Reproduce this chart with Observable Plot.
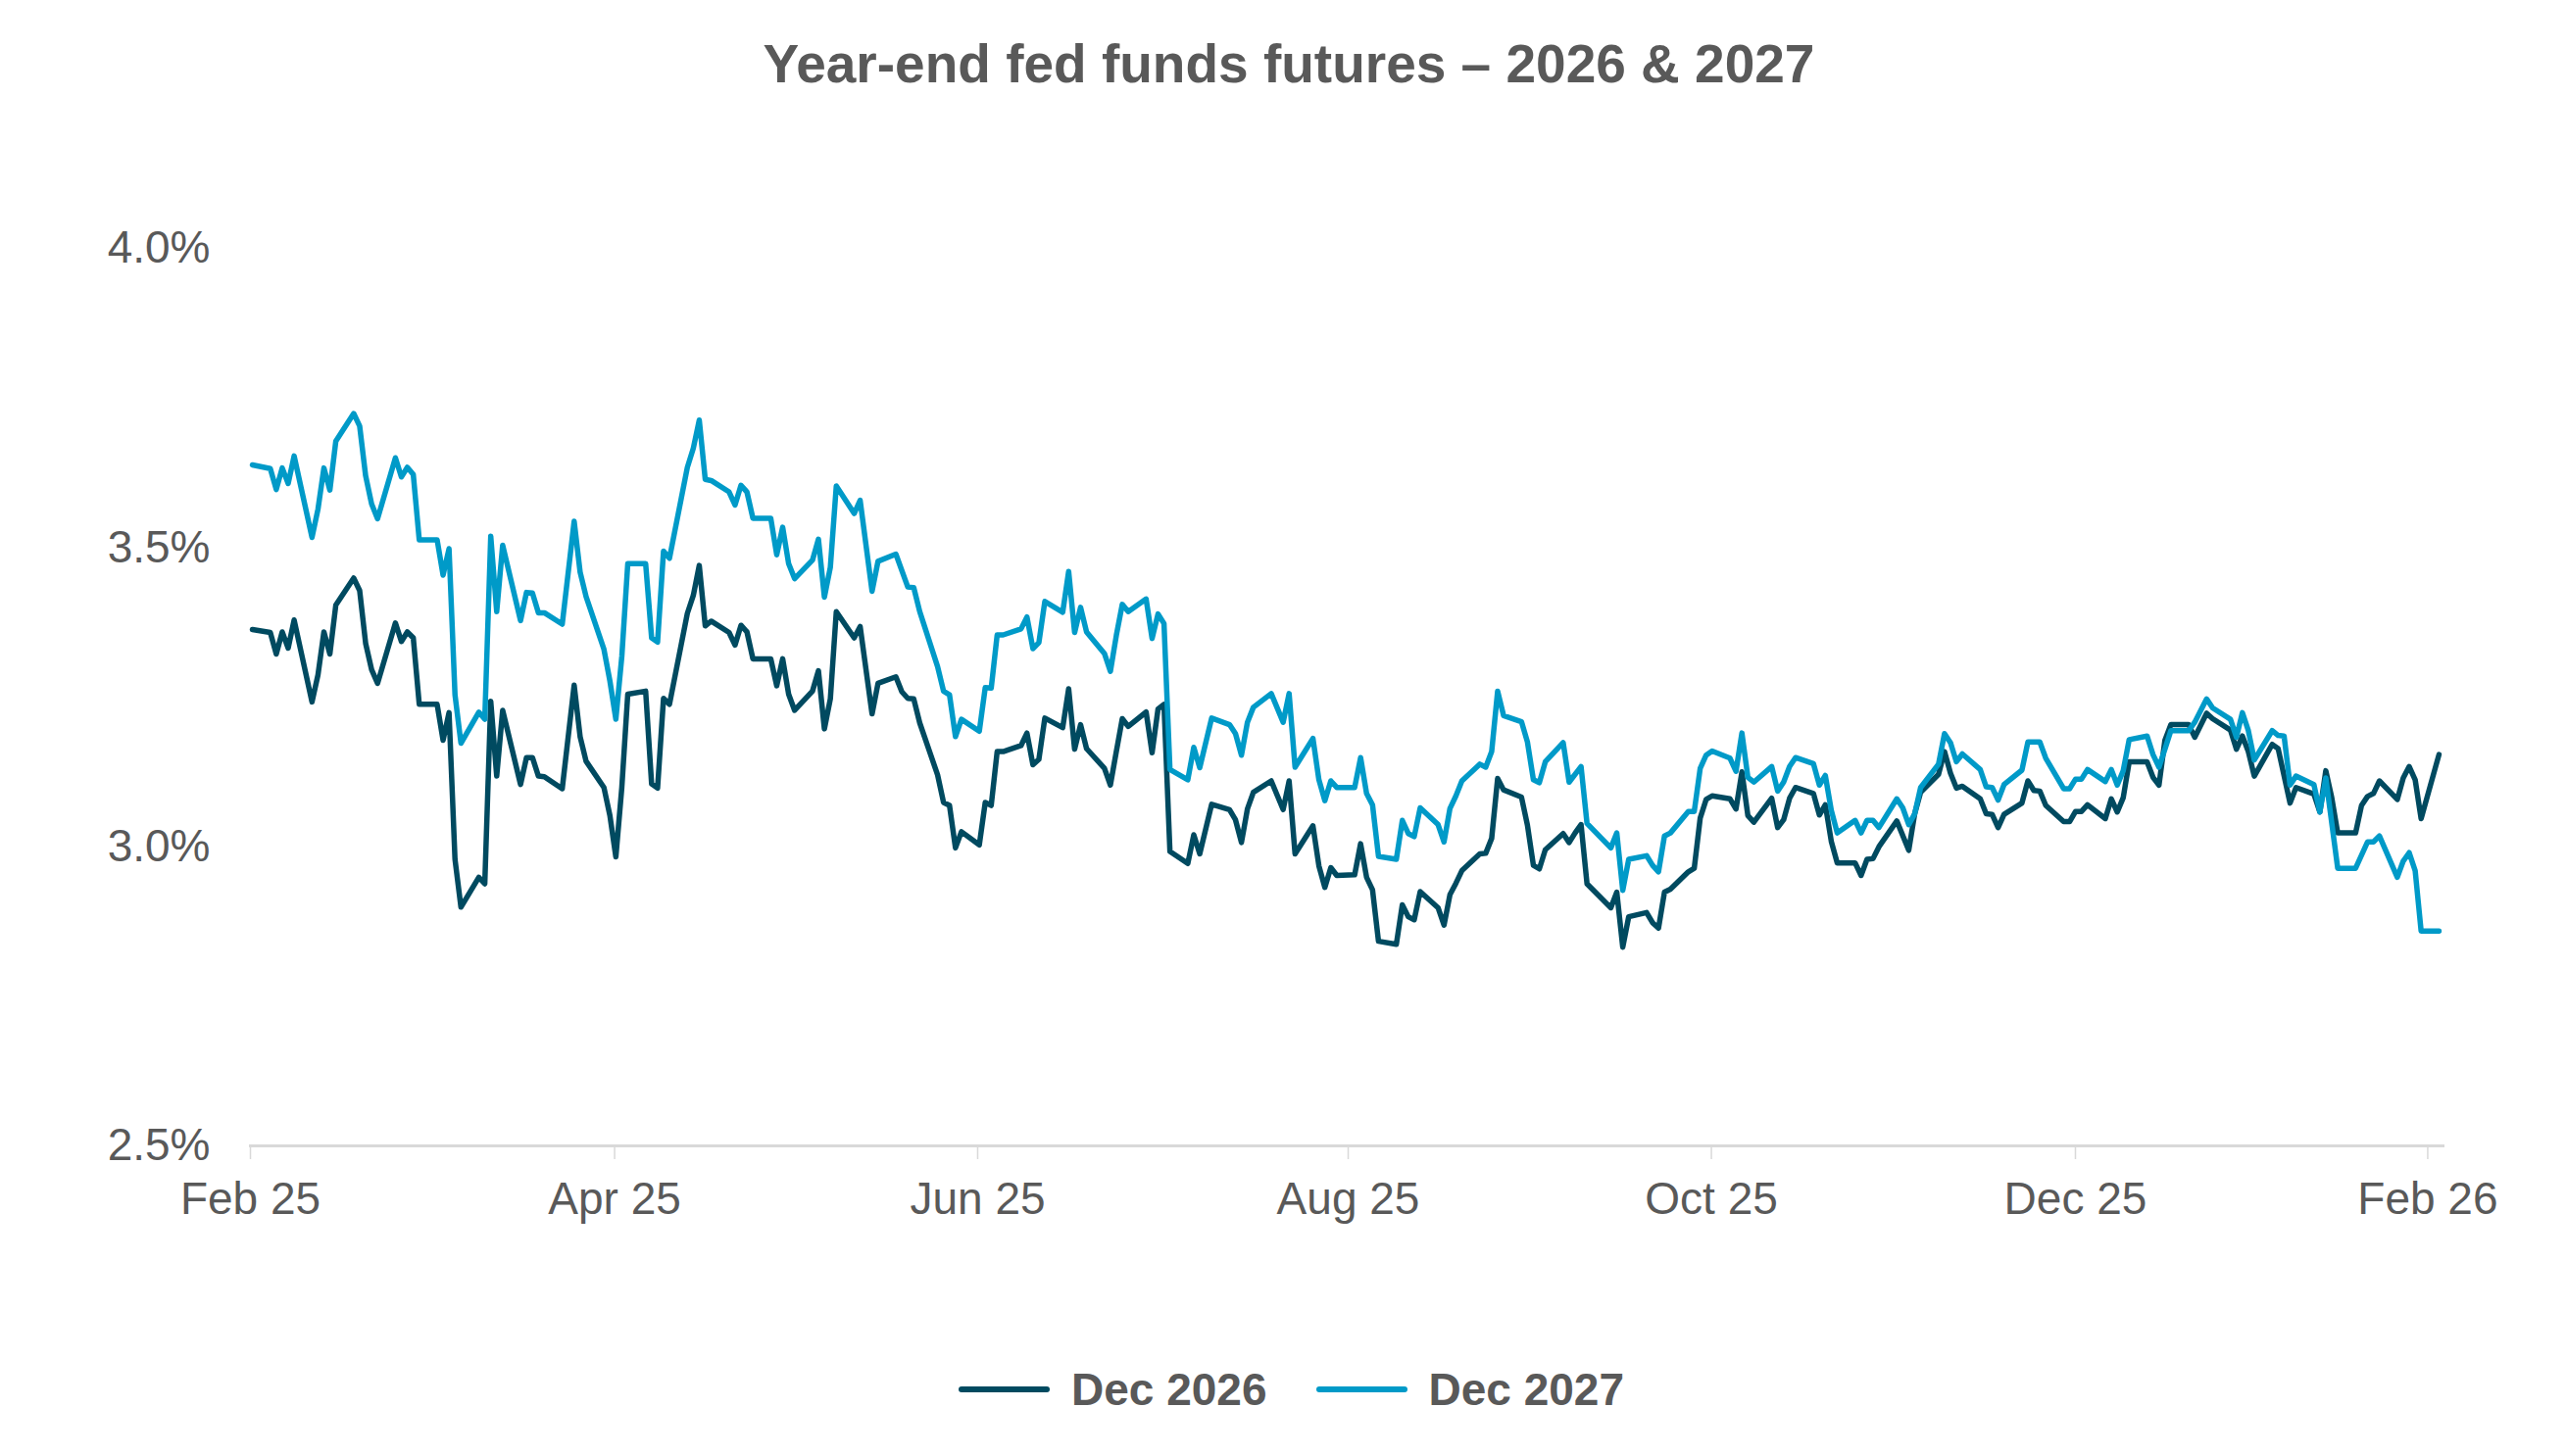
<!DOCTYPE html>
<html>
<head>
<meta charset="utf-8">
<script src="https://cdn.jsdelivr.net/npm/d3@7"></script>
<script src="https://cdn.jsdelivr.net/npm/@observablehq/plot@0.6"></script>
<style>
html, body { margin: 0; padding: 0; background: #ffffff; }
body { width: 2618px; height: 1486px; position: relative; overflow: hidden;
  font-family: "Liberation Sans", Arial, sans-serif; color: #595959; }
#title { position: absolute; left: 6px; top: 38px; width: 2618px; text-align: center;
  font-size: 55px; line-height: 55px; font-weight: bold; color: #595959; }
#chart { position: absolute; left: 0; top: 200px; }
#legend { position: absolute; left: 978px; top: 1395px; height: 46px; display: flex; align-items: center;
  font-size: 46px; line-height: 46px; font-weight: bold; color: #595959; }
#legend .item { display: flex; align-items: center; margin-right: 50px; }
#legend .sw { width: 93px; height: 6px; border-radius: 3px; margin-right: 22px; }
</style>
</head>
<body>
<div id="title">Year-end fed funds futures – 2026 &amp; 2027</div>
<div id="chart"></div>
<div id="legend"></div>
<script>
// Day offsets are days since 1 Feb 2025.
const seriesNames = ["Dec 2026", "Dec 2027"];
const seriesColors = ["#004a60", "#009ac8"];

const dec26Days = [0,3,4,5,6,7,10,11,12,13,14,17,18,19,20,21,24,25,26,27,28,31,32,33,34,35,38,39,40,41,42,45,46,47,48,49,52,54,55,56,59,60,61,62,63,66,67,68,69,70,73,74,75,76,77,80,81,82,83,84,87,88,89,90,91,94,95,96,97,98,101,102,104,105,108,109,110,111,112,115,116,117,118,119,122,123,124,125,126,129,130,131,132,133,136,137,138,139,140,143,144,145,146,147,150,151,152,153,154,157,158,159,161,164,165,166,167,168,171,173,174,175,178,179,180,181,182,185,186,187,188,189,192,193,194,195,196,199,200,201,202,203,206,207,208,209,210,213,214,215,216,217,220,221,222,223,224,228,229,230,231,234,235,236,237,238,241,242,243,244,245,248,249,250,251,252,255,256,257,258,259,262,263,264,265,266,269,270,271,272,273,276,278,279,280,283,284,285,286,287,290,291,292,293,294,297,298,299,300,301,304,305,306,307,308,311,312,313,314,315,318,319,320,321,322,325,326,328,329,332,333,334,335,336,339,340,342,343,346,347,348,349,350,353,354,355,356,357,360,361,362,363,364,367];
const dec26Values = [3.363,3.358,3.322,3.359,3.332,3.379,3.242,3.287,3.359,3.322,3.404,3.449,3.428,3.340,3.296,3.273,3.374,3.343,3.359,3.349,3.238,3.238,3.178,3.224,2.979,2.899,2.949,2.938,3.243,3.118,3.228,3.104,3.149,3.149,3.118,3.117,3.097,3.270,3.184,3.143,3.099,3.052,2.983,3.099,3.255,3.260,3.105,3.098,3.248,3.238,3.390,3.420,3.470,3.369,3.377,3.358,3.337,3.370,3.359,3.314,3.314,3.269,3.314,3.255,3.228,3.260,3.294,3.197,3.247,3.393,3.349,3.368,3.222,3.273,3.284,3.259,3.248,3.247,3.207,3.120,3.074,3.069,2.998,3.025,3.003,3.074,3.069,3.159,3.159,3.169,3.190,3.137,3.146,3.215,3.199,3.264,3.163,3.204,3.164,3.131,3.103,3.159,3.214,3.201,3.225,3.157,3.230,3.238,2.992,2.972,3.020,2.988,3.071,3.062,3.045,3.007,3.063,3.091,3.110,3.062,3.110,2.988,3.035,2.968,2.932,2.965,2.952,2.953,3.005,2.949,2.928,2.842,2.837,2.903,2.883,2.878,2.925,2.898,2.869,2.920,2.939,2.960,2.988,2.989,3.014,3.114,3.095,3.083,3.036,2.969,2.963,2.995,3.022,3.007,3.023,3.037,2.938,2.898,2.924,2.832,2.883,2.890,2.873,2.864,2.924,2.929,2.958,2.964,3.048,3.079,3.085,3.080,3.063,3.125,3.052,3.041,3.081,3.032,3.045,3.081,3.099,3.089,3.053,3.070,3.009,2.973,2.973,2.952,2.979,2.980,3.000,3.043,2.994,3.055,3.091,3.121,3.159,3.123,3.098,3.101,3.080,3.055,3.054,3.032,3.054,3.073,3.110,3.094,3.093,3.069,3.042,3.042,3.059,3.059,3.070,3.047,3.080,3.058,3.082,3.142,3.142,3.116,3.103,3.178,3.204,3.204,3.183,3.223,3.214,3.195,3.163,3.185,3.159,3.118,3.171,3.164,3.073,3.099,3.088,3.058,3.127,3.082,3.023,3.023,3.069,3.084,3.089,3.110,3.079,3.115,3.134,3.112,3.047,3.154];

const dec27Days = [0,3,4,5,6,7,10,11,12,13,14,17,18,19,20,21,24,25,26,27,28,31,32,33,34,35,38,39,40,41,42,45,46,47,48,49,52,54,55,56,59,60,61,62,63,66,67,68,69,70,73,74,75,76,77,80,81,82,83,84,87,88,89,90,91,94,95,96,97,98,101,102,104,105,108,110,111,112,115,116,117,118,119,122,123,124,125,126,129,130,131,132,133,136,137,138,139,140,143,144,145,146,147,150,151,152,153,154,157,158,159,161,164,165,166,167,168,171,173,174,175,178,179,180,181,182,185,186,187,188,189,192,193,194,195,196,199,200,201,202,203,206,207,208,209,210,213,214,215,216,217,220,221,223,224,228,229,230,231,234,235,236,237,238,241,242,243,244,245,248,249,250,251,252,255,256,257,258,259,262,263,264,265,266,269,270,271,272,273,276,277,278,279,280,283,284,285,286,287,290,291,292,293,294,297,298,300,301,304,305,306,307,308,311,312,313,314,315,318,319,320,321,322,325,326,328,329,332,333,334,335,336,339,340,341,342,343,346,347,348,350,353,355,356,357,360,361,362,363,364,367];
const dec27Values = [3.638,3.632,3.597,3.633,3.607,3.653,3.517,3.564,3.633,3.596,3.678,3.724,3.703,3.620,3.573,3.548,3.650,3.618,3.634,3.622,3.513,3.513,3.454,3.498,3.254,3.173,3.225,3.213,3.519,3.393,3.504,3.378,3.425,3.424,3.391,3.391,3.372,3.544,3.459,3.418,3.330,3.277,3.213,3.318,3.473,3.473,3.349,3.342,3.494,3.482,3.634,3.666,3.713,3.614,3.612,3.593,3.571,3.604,3.593,3.549,3.549,3.488,3.534,3.473,3.448,3.479,3.514,3.417,3.467,3.603,3.557,3.579,3.427,3.477,3.489,3.434,3.433,3.393,3.301,3.260,3.254,3.184,3.213,3.193,3.266,3.265,3.354,3.354,3.364,3.384,3.331,3.341,3.410,3.392,3.460,3.358,3.400,3.359,3.323,3.293,3.353,3.405,3.393,3.414,3.348,3.389,3.373,3.129,3.112,3.166,3.132,3.215,3.204,3.189,3.153,3.208,3.233,3.256,3.208,3.256,3.133,3.181,3.112,3.077,3.110,3.099,3.099,3.149,3.089,3.070,2.984,2.979,3.044,3.022,3.017,3.065,3.037,3.008,3.064,3.085,3.110,3.138,3.133,3.159,3.260,3.219,3.209,3.175,3.112,3.107,3.142,3.174,3.108,3.134,3.039,2.998,3.023,2.927,2.979,2.985,2.969,2.958,3.018,3.023,3.059,3.059,3.131,3.153,3.160,3.148,3.126,3.190,3.116,3.108,3.134,3.093,3.108,3.134,3.149,3.139,3.103,3.119,3.061,3.023,3.044,3.023,3.044,3.044,3.032,3.080,3.065,3.037,3.055,3.099,3.138,3.189,3.174,3.142,3.155,3.129,3.100,3.099,3.078,3.104,3.128,3.175,3.175,3.148,3.097,3.097,3.113,3.113,3.129,3.109,3.129,3.103,3.127,3.179,3.185,3.154,3.133,3.163,3.194,3.194,3.208,3.247,3.232,3.213,3.183,3.224,3.194,3.145,3.194,3.186,3.185,3.103,3.118,3.104,3.058,3.115,2.964,2.964,3.008,3.008,3.018,2.949,2.976,2.990,2.960,2.859,2.859];

// Tick positions as they sit on the reference axis, with their labels.
const xTickDates = ["2025-02-01T04:00Z","2025-04-03T07:00Z","2025-06-03T05:30Z","2025-08-04T10:00Z","2025-10-04T09:00Z","2025-12-04T11:30Z","2026-02-01T14:40Z"];
const xTickLabels = ["Feb 25","Apr 25","Jun 25","Aug 25","Oct 25","Dec 25","Feb 26"];
const yTicks = [2.5, 3.0, 3.5, 4.0];

const DAY = 864e5;
const start = Date.UTC(2025, 1, 1);
function toRows(days, values) {
  // each daily value is drawn at the middle of its day
  return days.map((d, i) => ({date: new Date(start + (d + 0.5) * DAY), value: values[i]}));
}
const rows26 = toRows(dec26Days, dec26Values);
const rows27 = toRows(dec27Days, dec27Values);
const xTicks = xTickDates.map(s => new Date(s));
const tickLabel = new Map(xTicks.map((d, i) => [+d, xTickLabels[i]]));

const chart = Plot.plot({
  width: 2618,
  height: 1100,
  marginTop: 53,
  marginBottom: 131,
  marginLeft: 254,
  marginRight: 124,
  style: {fontFamily: "'Liberation Sans', Arial, sans-serif", fontSize: "46px", color: "#595959", background: "transparent", overflow: "visible"},
  x: {type: "utc", domain: [new Date(start), new Date(Date.UTC(2026, 1, 4, 12))]},
  y: {domain: [2.5, 4.0]},
  marks: [
    Plot.ruleY([2.5], {stroke: "#d9d9d9", strokeWidth: 3}),
    Plot.axisX({ticks: xTicks, tickFormat: d => tickLabel.get(+d), tickSize: 14, tickPadding: 23,
      stroke: "#d9d9d9", strokeWidth: 1.5, fill: "#595959", fontSize: 46, label: null}),
    Plot.axisY({ticks: yTicks, tickFormat: d => d.toFixed(1) + "%", tickSize: 0, tickPadding: 40,
      fill: "#595959", fontSize: 46, label: null}),
    Plot.line(rows26, {x: "date", y: "value", stroke: seriesColors[0], strokeWidth: 5.5,
      strokeLinejoin: "round", strokeLinecap: "round"}),
    Plot.line(rows27, {x: "date", y: "value", stroke: seriesColors[1], strokeWidth: 5.5,
      strokeLinejoin: "round", strokeLinecap: "round"})
  ]
});
document.getElementById("chart").appendChild(chart);

const legend = document.getElementById("legend");
seriesNames.forEach((name, i) => {
  const item = document.createElement("div");
  item.className = "item";
  const sw = document.createElement("div");
  sw.className = "sw";
  sw.style.background = seriesColors[i];
  const label = document.createElement("span");
  label.textContent = name;
  item.appendChild(sw);
  item.appendChild(label);
  legend.appendChild(item);
});
</script>
</body>
</html>
